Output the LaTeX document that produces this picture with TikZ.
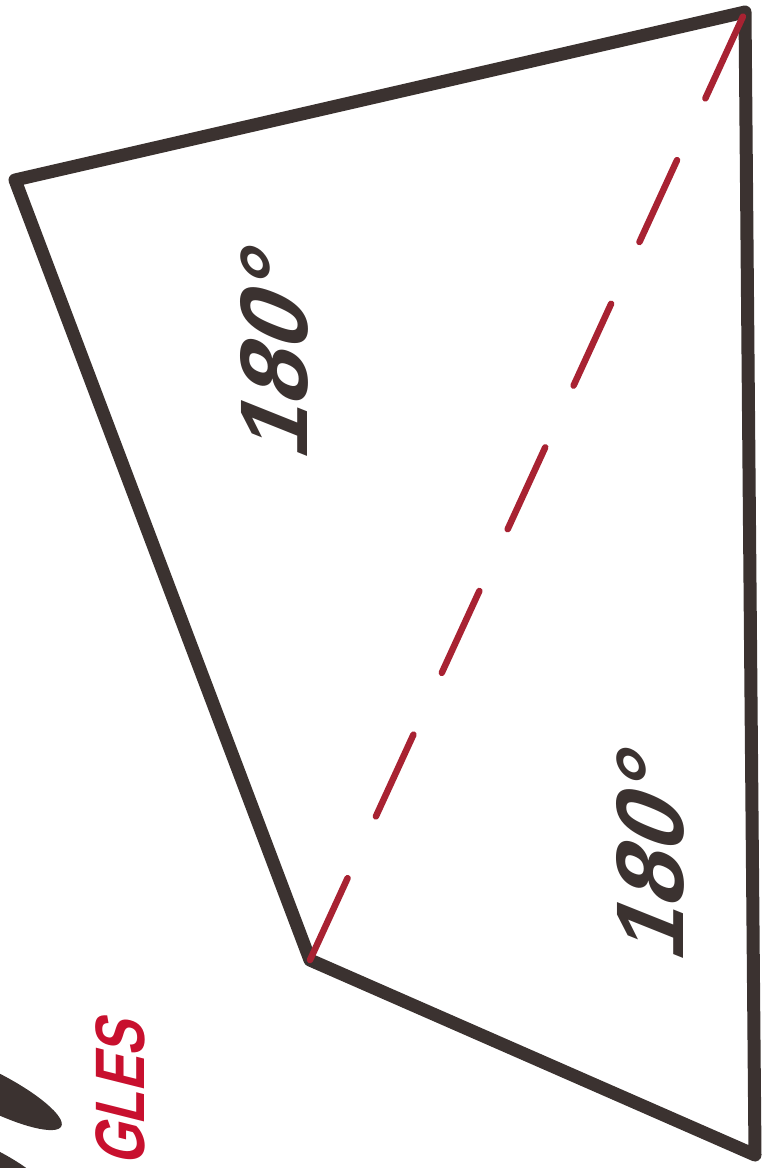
\documentclass[tikz,border=0pt]{standalone}
\usepackage{fontspec}
\setmainfont{Liberation Sans}
\usetikzlibrary{positioning}

\definecolor{ink}{HTML}{3B3230}
\definecolor{redink}{HTML}{A82232}
\definecolor{redtext}{HTML}{C8102E}

\begin{document}
\begin{tikzpicture}[x=1pt, y=-1pt,
    edge/.style={draw=ink, line width=13pt, line join=round, line cap=round},
    diag/.style={draw=redink, line width=6.5pt, line cap=round, dash pattern=on 90pt off 68pt},
    angletext/.style={font=\fontsize{96}{96}\selectfont\bfseries, text=ink, inner sep=0pt, rotate=90, xslant=0.4},
    title/.style={font=\fontsize{70}{70}\selectfont\bfseries, text=redtext, inner sep=0pt, rotate=90, xslant=0.25, xscale=0.76}
]
\useasboundingbox (0,0) rectangle (767,1168);
\clip (0,0) rectangle (767,1168);

% corners of the quadrilateral
\coordinate (tl) at (15,180);
\coordinate (tr) at (745,12);
\coordinate (br) at (755,1155);
\coordinate (bl) at (310,960);

% outline and diagonal
\draw[edge] (tl) -- (tr) -- (br) -- (bl) -- cycle;
\draw[diag] (bl) -- (tr);

% angle sums of the two triangles
\node (upper) at (274,350) [angletext] {180°};
\node (lower) at (650,852) [angletext] {180°};

% cut-off word and blobs at the edge
\node (word) at (120,1088) [title] {GLES};
\fill[ink, rotate around={-27:(-10,1090)}] (-10,1090) ellipse (80 and 19);
\fill[ink, rotate around={-27:(-12,1166)}] (-12,1166) ellipse (70 and 18);

\end{tikzpicture}
\end{document}
